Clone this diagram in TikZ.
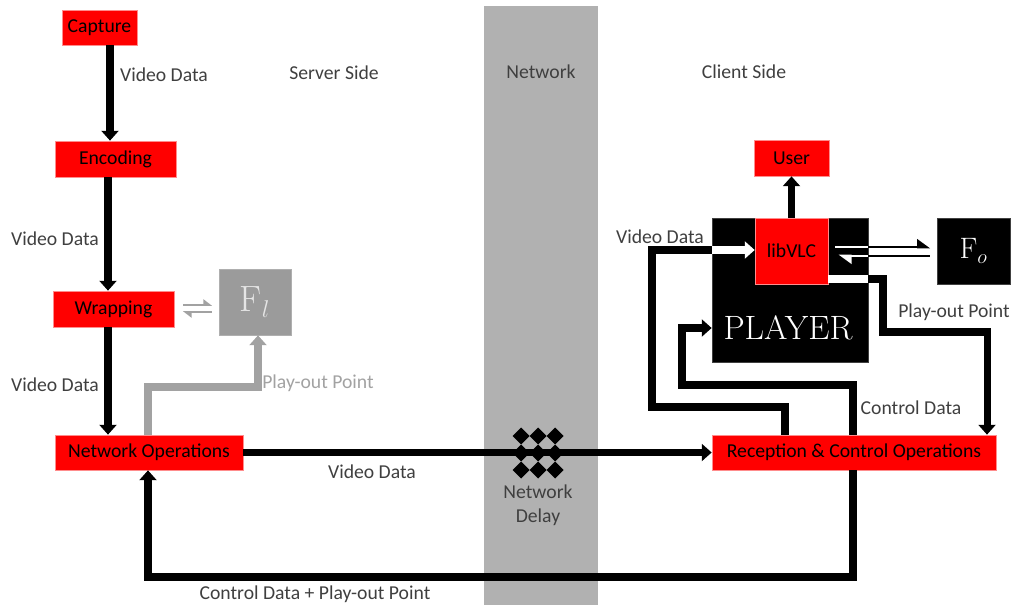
\documentclass[tikz,border=0pt]{standalone}
\usepackage{fontspec}
\newfontfamily\calibri{Carlito}
\usetikzlibrary{arrows.meta}
\definecolor{boxRed}{HTML}{FF0000}
\definecolor{labelInk}{HTML}{3F3F3F}
\definecolor{netGray}{HTML}{B1B1B1}
\definecolor{lagGray}{HTML}{A2A2A2}
\definecolor{lagBox}{HTML}{9B9B9B}
\newlength{\pxu}
\setlength{\pxu}{0.025cm}

\begin{document}
\begin{tikzpicture}[x=0.025cm,y=-0.025cm,
    stage/.style={fill=boxRed,draw=red!45!white,line width=0.5pt,inner sep=0pt,
      font=\calibri\fontsize{14}{16}\selectfont,text=black},
    slab/.style={fill=black,draw=black!75,line width=0.5pt,inner sep=0pt,text=white},
    lagbox/.style={fill=lagBox,draw=lagBox!80,line width=0.5pt,inner sep=0pt,text=white!90!black,
      font=\fontsize{26}{30}\selectfont},
    dim/.style 2 args={minimum width=#1\pxu,minimum height=#2\pxu},
    lbl/.style={inner sep=0pt,font=\calibri\fontsize{14}{17}\selectfont,text=labelInk},
    flow/.style={line width=5pt,draw=black,-{Triangle[length=7pt,width=12pt]}},
    lagflow/.style={flow,draw=lagGray},
    harp/.style={line width=1.5pt,-{Triangle[harpoon,length=5.5pt,width=8pt]}},
    bigharp/.style={line width=2pt,-{Triangle[harpoon,length=8pt,width=11pt]}}]
  \useasboundingbox (0,0) rectangle (1011,605);
  % network band
  \node[fill=netGray,inner sep=0pt,dim={114}{599}] (net) at (541,305.5) {};
  \node[lbl] (srvside) at (334,73) {Server Side};
  \node[lbl] (netlbl) at (541,72) {Network};
  \node[lbl] (cliside) at (744,72) {Client Side};
  % server side
  \node[stage,dim={75}{35}] (capture) at (99.5,27.5) {Capture};
  \node[stage,dim={121}{36}] (encoding) at (115.5,159) {Encoding};
  \node[stage,dim={121}{36}] (wrapping) at (113.5,309) {Wrapping};
  \node[stage,dim={188}{35}] (netops) at (149,452.5) {Network Operations};
  \node[lagbox,dim={72}{66}] (fl) at (255,302) {$\mathrm{F}_l$};
  % client side
  \node[stage,dim={75}{36}] (user) at (791.5,158) {User};
  \node[slab,dim={156}{144}] (player) at (790,290) {};
  \node[text=white,inner sep=0pt,font=\fontsize{24}{28}\selectfont] (playertext) at (788,328) {PLAYER};
  \node[stage,dim={73}{66}] (libvlc) at (791.5,251) {libVLC};
  \node[slab,dim={73}{66},font=\fontsize{21}{24}\selectfont] (fo) at (973.5,251) {$\mathrm{F}_o$};
  \node[stage,dim={284}{35}] (recep) at (854,452.5) {Reception \& Control Operations};
  % network delay
  \coordinate (delay) at (538,453);
  \foreach \dx in {-17,0,17}
    \foreach \dy in {-17,0,17}
      \fill ([shift={(\dx,\dy)}]delay) ++(-8.5,0) -- ++(8.5,-8.5) -- ++(8.5,8.5) -- ++(-8.5,8.5) -- cycle;
  \node[lbl,align=center] (delaytxt) at (538,505) {Network\\Delay};

  % server connectors
  \draw[flow] (110,0 |- capture.south) -- (110,0 |- encoding.north);
  \draw[flow] (108,0 |- encoding.south) -- (108,0 |- wrapping.north);
  \draw[flow] (108,0 |- wrapping.south) -- (108,0 |- netops.north);
  \draw[lagflow] (148,0 |- netops.north) -- (148,387) -| (258,0 |- fl.south);
  \draw[harp,draw=lagGray] ([shift={(9,-4)}]wrapping.east) -- ++(29,0);
  \draw[harp,draw=lagGray] ([shift={(-7,10)}]fl.west) -- ++(-29,0);
  \draw[flow] (netops) -- (recep);

  % client connectors
  \draw[flow] (libvlc) -- (user);
  \draw[line width=5pt] (785,0 |- recep.north) -- (785,407) -| (652,250) -- (player.west |- 0,250);
  \draw[flow,draw=white] (player.west |- 0,250) -- (libvlc.west |- 0,250);
  \draw[flow] (853,0 |- recep.north) -- (853,385) -| (682,328) -- (player.west |- 0,328);
  \draw[line width=5pt,white] (libvlc.east |- 0,279) -- (player.east |- 0,279);
  \draw[flow] (player.east |- 0,279) -- (883,279) -- (883,332) -- (987,332) -- (987,0 |- recep.north);
  \draw[flow] (853,0 |- recep.south) -- (853,577) -| (148,0 |- netops.south);
  \draw[bigharp] ([shift={(7,-4)}]libvlc.east) -- ++(95,0);
  \draw[bigharp] ([shift={(-7,5)}]fo.west) -- ++(-92,0);
  \draw[line width=2pt,white] ([shift={(7,-4)}]libvlc.east) -- (player.east |- 0,247);
  \draw[bigharp,draw=white] (player.east |- 0,256) -- ([shift={(10,5)}]libvlc.east);

  % labels
  \node[lbl] (vd1) at (164,75) {Video Data};
  \node[lbl] (vd2) at (55,239) {Video Data};
  \node[lbl] (vd3) at (55,385) {Video Data};
  \node[lbl,text=lagGray] (po1) at (318,383) {Play-out Point};
  \node[lbl] (vd4) at (372,472) {Video Data};
  \node[lbl] (cdpo) at (315,594) {Control Data + Play-out Point};
  \node[lbl] (vd5) at (660,237) {Video Data};
  \node[lbl] (po2) at (954,312) {Play-out Point};
  \node[lbl] (cd) at (911,408) {Control Data};
\end{tikzpicture}
\end{document}
